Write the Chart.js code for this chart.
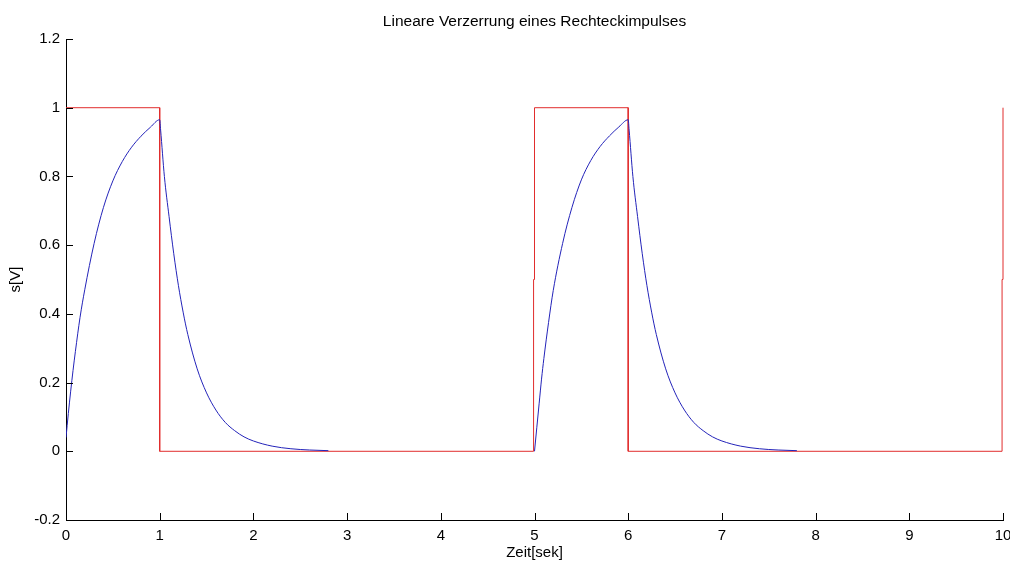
<!DOCTYPE html>
<html>
<head>
<meta charset="utf-8">
<script src="https://cdn.jsdelivr.net/npm/chart.js@4.4.1/dist/chart.umd.min.js"></script>
<style>
  html, body { margin: 0; padding: 0; background: #fff; }
  #box { width: 1010px; height: 563px; }
</style>
</head>
<body>
<div id="box"><canvas id="myChart"></canvas></div>
<script>
// Rechteckimpuls (rot)
var rechteckT = [0, 1, 1, 4.99, 4.99, 5, 5, 6, 6, 9.99, 9.99, 10, 10];
var rechteckS = [1, 1, 0, 0, 0.5, 0.5, 1, 1, 0, 0, 0.5, 0.5, 1];

// verzerrte Antwort (blau), null = Luecke
var antwortT = [0, 0.025, 0.05, 0.075, 0.1, 0.15, 0.2, 0.3, 0.4, 0.5, 0.6, 0.7, 0.8, 0.9, 1, 1.01,
                1.05, 1.1, 1.15, 1.2, 1.25, 1.3, 1.4, 1.5, 1.6, 1.7, 1.8, 1.9, 2, 2.2, 2.4, 2.6, 2.8,
                3,
                5, 5.025, 5.05, 5.075, 5.1, 5.15, 5.2, 5.3, 5.4, 5.5, 5.6, 5.7, 5.8, 5.9, 6, 6.01,
                6.05, 6.1, 6.15, 6.2, 6.25, 6.3, 6.4, 6.5, 6.6, 6.7, 6.8, 6.9, 7, 7.2, 7.4, 7.6, 7.8];
var antwortS = [0.04, 0.11, 0.175, 0.235, 0.29, 0.39, 0.47, 0.605, 0.71, 0.787, 0.843, 0.885, 0.917, 0.943, 0.965, 0.935,
                0.8, 0.683, 0.575, 0.482, 0.405, 0.34, 0.24, 0.17, 0.12, 0.084, 0.06, 0.042, 0.03, 0.015, 0.0074, 0.0037, 0.0018,
                null,
                0, 0.07, 0.14, 0.21, 0.27, 0.375, 0.468, 0.605, 0.71, 0.79, 0.846, 0.887, 0.918, 0.944, 0.965, 0.935,
                0.8, 0.683, 0.575, 0.482, 0.405, 0.34, 0.24, 0.17, 0.12, 0.084, 0.06, 0.042, 0.03, 0.015, 0.0074, 0.0037, 0.0018];

var xTicks = [0, 1, 2, 3, 4, 5, 6, 7, 8, 9, 10];
var yTicks = [-0.2, 0, 0.2, 0.4, 0.6, 0.8, 1, 1.2];

var schrift = "'Liberation Sans', Arial, sans-serif";

function punkte(ts, vs) {
    return ts.map(function (t, i) { return { x: t, y: vs[i] }; });
}

// Ticks nach innen wie bei MATLAB
var innenTicks = {
    id: 'innenTicks',
    afterDatasetsDraw: function (chart) {
        var ctx = chart.ctx, xs = chart.scales.x, ys = chart.scales.y, a = chart.chartArea;
        ctx.save();
        ctx.strokeStyle = '#000';
        ctx.lineWidth = 1;
        ctx.beginPath();
        xs.ticks.forEach(function (t) {
            var px = Math.round(xs.getPixelForValue(t.value)) + 0.5;
            ctx.moveTo(px, a.bottom);
            ctx.lineTo(px, a.bottom - 7);
        });
        ys.ticks.forEach(function (t) {
            var py = Math.round(ys.getPixelForValue(t.value)) + 0.5;
            ctx.moveTo(a.left, py);
            ctx.lineTo(a.left + 7, py);
        });
        ctx.stroke();
        ctx.restore();
    }
};

new Chart("myChart", {
    type: "scatter",
    data: {
        datasets: [{
            data: punkte(rechteckT, rechteckS),
            showLine: true,
            borderColor: "rgb(225,45,45)",
            borderWidth: 1,
            pointRadius: 0,
            tension: 0,
            clip: 4,
            order: 1
        }, {
            data: punkte(antwortT, antwortS),
            showLine: true,
            spanGaps: false,
            borderColor: "rgb(35,35,185)",
            borderWidth: 1,
            pointRadius: 0,
            cubicInterpolationMode: "monotone",
            order: 0
        }]
    },
    options: {
        responsive: true,
        maintainAspectRatio: false,
        animation: false,
        layout: { padding: { left: 0, right: 7, top: 0, bottom: 0 } },
        plugins: {
            legend: { display: false },
            tooltip: { enabled: false },
            title: {
                display: true,
                fullSize: false,
                text: "Lineare Verzerrung eines Rechteckimpulses",
                color: "#000",
                font: { family: schrift, size: 15.5, weight: "normal" },
                padding: { top: 12, bottom: 8.4 }
            }
        },
        scales: {
            x: {
                type: "linear",
                min: 0,
                max: 10,
                afterBuildTicks: function (s) { s.ticks = xTicks.map(function (v) { return { value: v }; }); },
                afterFit: function (s) { s.height = 43; s.paddingLeft = 0; s.paddingRight = 0; },
                grid: { display: true, drawOnChartArea: false, drawTicks: false },
                border: { display: true, color: "#000", width: 1 },
                ticks: {
                    color: "#000",
                    padding: 7,
                    maxRotation: 0,
                    font: { family: schrift, size: 15 },
                    callback: function (v) { return String(v); }
                },
                title: {
                    display: true,
                    text: "Zeit[sek]",
                    color: "#000",
                    font: { family: schrift, size: 15 },
                    padding: { top: 0, bottom: 1 }
                }
            },
            y: {
                type: "linear",
                min: -0.2,
                max: 1.2,
                afterBuildTicks: function (s) { s.ticks = yTicks.map(function (v) { return { value: v }; }); },
                afterFit: function (s) { s.width = 66; },
                grid: { display: true, drawOnChartArea: false, drawTicks: false },
                border: { display: true, color: "#000", width: 1 },
                ticks: {
                    color: "#000",
                    padding: 6,
                    font: { family: schrift, size: 15 },
                    callback: function (v) { return String(Math.round(v * 10) / 10); }
                },
                title: {
                    display: true,
                    text: "s[V]",
                    color: "#000",
                    font: { family: schrift, size: 15 },
                    padding: { top: 7, bottom: 0 }
                }
            }
        }
    },
    plugins: [innenTicks]
});
</script>
</body>
</html>
